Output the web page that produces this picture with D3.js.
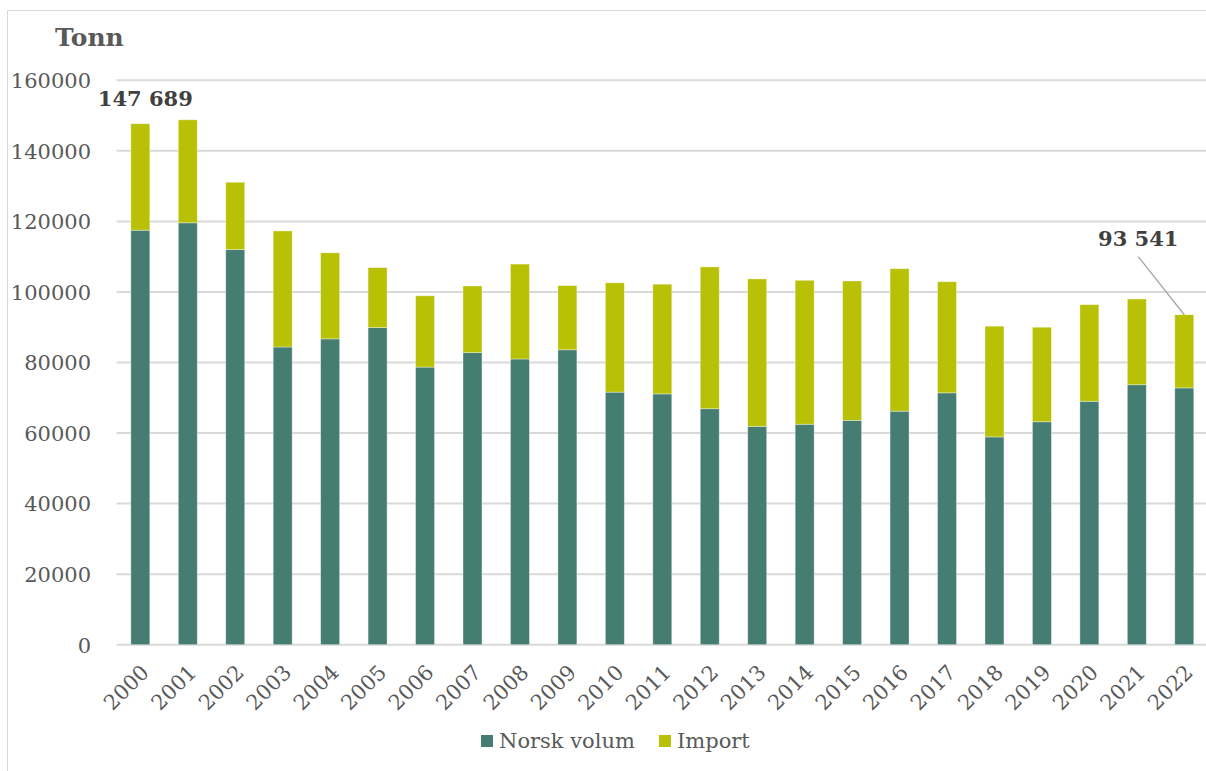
<!DOCTYPE html>
<html>
<head>
<meta charset="utf-8">
<script src="https://cdn.jsdelivr.net/npm/d3@7/dist/d3.min.js"></script>
<style>
  html, body { margin: 0; padding: 0; background: #fff; }
  svg { display: block; }
  text { font-family: "DejaVu Serif", Georgia, serif; }
</style>
</head>
<body>
<svg id="chart" width="1206" height="771"></svg>
<script>
// Years on the x axis
const years = ["2000","2001","2002","2003","2004","2005","2006","2007","2008","2009","2010","2011",
               "2012","2013","2014","2015","2016","2017","2018","2019","2020","2021","2022"];
// Domestic volume (tonn)
const norskVolum = [117500,119600,112000,84400,86700,89900,78700,82800,81000,83600,71600,71100,
                    66900,61900,62500,63600,66200,71400,58900,63200,69000,73700,72800];
// Imported volume (tonn)
const importVolum = [30189,29200,19100,32900,24400,17000,20200,18900,26900,18200,31000,31100,
                     40200,41800,40800,39500,40400,31500,31400,26800,27400,24300,20741];
// Axis ticks
const yTicks = [0,20000,40000,60000,80000,100000,120000,140000,160000];
const seriesNames = ["Norsk volum","Import"];
const seriesColors = ["#467d73","#b8c106"];
// Annotated totals: [year index, label text]
const callouts = [[0, "147 689"], [22, "93 541"]];

const svg = d3.select("#chart");
const W = 1206, H = 771;
const plot = { left: 116.6, right: 1208, top: 80.3, bottom: 644.7 };
const fontSize = "21px";

// Chart area border (left and top edges visible)
svg.append("rect")
  .attr("x", 7.5).attr("y", 10.5)
  .attr("width", W + 20).attr("height", H + 20)
  .attr("fill", "none").attr("stroke", "#d9d9d9").attr("stroke-width", 1);

const x = d3.scaleBand().domain(years).range([plot.left, plot.right])
  .paddingInner(0.6).paddingOuter(0.3);
const y = d3.scaleLinear().domain([0, 160000]).range([plot.bottom, plot.top]);

// Gridlines
svg.append("g").selectAll("line").data(yTicks).join("line")
  .attr("x1", plot.left).attr("x2", plot.right)
  .attr("y1", d => y(d)).attr("y2", d => y(d))
  .attr("stroke", "#d9d9d9").attr("stroke-width", 2);

// Y axis labels
const yAxis = d3.axisLeft(y).tickValues(yTicks).tickFormat(d3.format("d")).tickSize(0).tickPadding(0);
const yg = svg.append("g").attr("transform", `translate(91,0)`).call(yAxis);
yg.select(".domain").remove();
yg.selectAll("text").attr("fill", "#595959").style("font-size", fontSize)
  .style("font-family", "'DejaVu Serif', serif").attr("dy", "0.35em");

// Stacked bars
const rows = years.map((yr, i) => ({ year: yr, "Norsk volum": norskVolum[i], "Import": importVolum[i] }));
const stacked = d3.stack().keys(seriesNames)(rows);
svg.append("g").selectAll("g").data(stacked).join("g")
  .attr("fill", (d, i) => seriesColors[i])
  .selectAll("rect").data(d => d).join("rect")
  .attr("x", d => x(d.data.year))
  .attr("width", x.bandwidth())
  .attr("y", d => y(d[1]))
  .attr("height", d => y(d[0]) - y(d[1]))
  .attr("stroke", "#ffffff").attr("stroke-opacity", 0.45).attr("stroke-width", 0.8);

// X axis labels, rotated
const xAxis = d3.axisBottom(x).tickSize(0).tickPadding(0);
const xg = svg.append("g").attr("transform", `translate(0,${plot.bottom})`).call(xAxis);
xg.select(".domain").remove();
xg.selectAll("text")
  .attr("fill", "#595959").style("font-size", fontSize)
  .style("font-family", "'DejaVu Serif', serif")
  .attr("text-anchor", "end")
  .attr("y", 0).attr("dy", 0)
  .attr("transform", "translate(10,29) rotate(-45)");

// Axis title
svg.append("text").attr("x", 55).attr("y", 46)
  .attr("fill", "#595959").style("font-size", "25px").style("font-weight", "bold")
  .text("Tonn");

// Total callouts
const total = i => norskVolum[i] + importVolum[i];
const c0 = callouts[0];
svg.append("text")
  .attr("x", x(years[c0[0]]) + x.bandwidth() / 2 + 5)
  .attr("y", y(total(c0[0])) - 18)
  .attr("text-anchor", "middle")
  .attr("fill", "#404040").style("font-size", "21px").style("font-weight", "bold")
  .text(c0[1]);

const c1 = callouts[1];
const cx1 = x(years[c1[0]]) + x.bandwidth() / 2;
svg.append("line")
  .attr("x1", cx1 - 46).attr("y1", 256.7)
  .attr("x2", cx1).attr("y2", y(total(c1[0])))
  .attr("stroke", "#a6a6a6").attr("stroke-width", 1.3);
svg.append("text")
  .attr("x", cx1 - 46).attr("y", 246)
  .attr("text-anchor", "middle")
  .attr("fill", "#404040").style("font-size", "21px").style("font-weight", "bold")
  .text(c1[1]);

// Legend
const legend = svg.append("g").attr("transform", "translate(481,735)");
const lx = [0, 178];
seriesNames.forEach((name, i) => {
  const g = legend.append("g").attr("transform", `translate(${lx[i]},0)`);
  g.append("rect").attr("width", 12).attr("height", 12).attr("fill", seriesColors[i]);
  g.append("text").attr("x", 18).attr("y", 13)
    .attr("fill", "#595959").style("font-size", fontSize).text(name);
});
</script>
</body>
</html>
